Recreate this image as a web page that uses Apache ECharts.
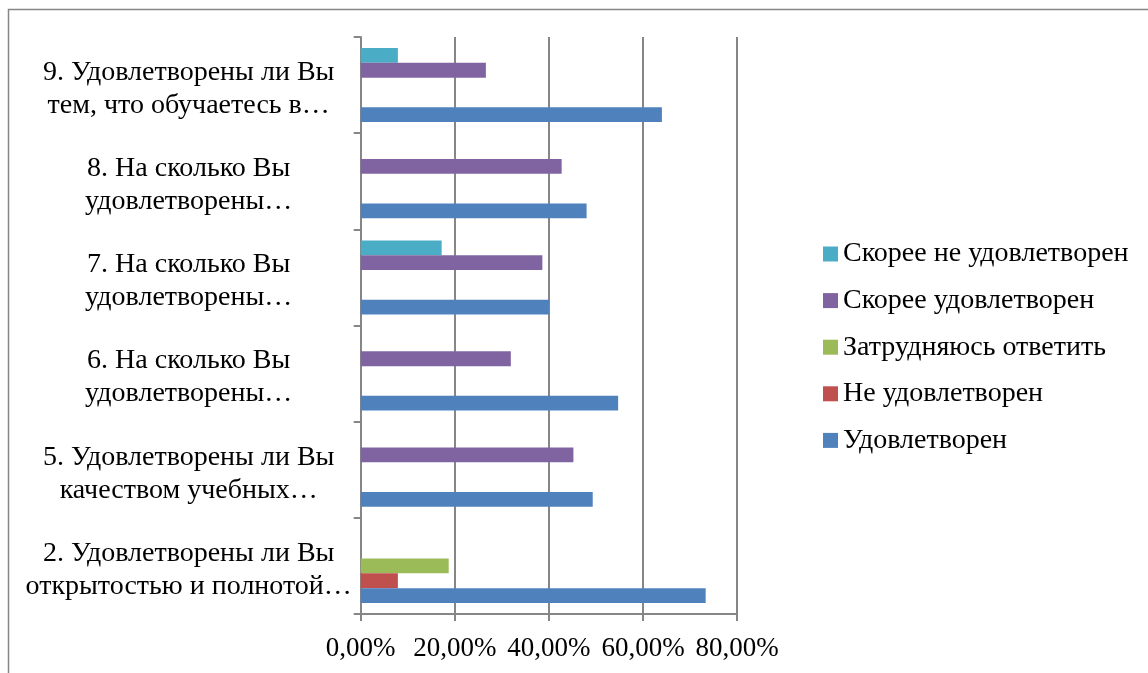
<!DOCTYPE html>
<html>
<head>
<meta charset="utf-8">
<script src="https://cdn.jsdelivr.net/npm/echarts@6/dist/echarts.min.js"></script>
<style>
html,body{margin:0;padding:0;background:#fff;}
#chart{width:1148px;height:673px;}
</style>
</head>
<body>
<div id="chart"></div>
<script>
// Categories, bottom to top
var categories = [
  '2. Удовлетворены ли Вы\nоткрытостью и полнотой…',
  '5. Удовлетворены ли Вы\nкачеством учебных…',
  '6. На сколько Вы\nудовлетворены…',
  '7. На сколько Вы\nудовлетворены…',
  '8. На сколько Вы\nудовлетворены…',
  '9. Удовлетворены ли Вы\nтем, что обучаетесь в…'
];
// Series values (percent)
var satisfied          = [73.3, 49.3, 54.7, 40.0, 48.0, 64.0]; // Удовлетворен
var notSatisfied       = [7.9, 0, 0, 0, 0, 0];                 // Не удовлетворен
var hardToSay          = [18.7, 0, 0, 0, 0, 0];                // Затрудняюсь ответить
var ratherSatisfied    = [0, 45.2, 31.9, 38.6, 42.7, 26.6];    // Скорее удовлетворен
var ratherNotSatisfied = [0, 0, 0, 17.2, 0, 7.9];              // Скорее не удовлетворен
var xTicks = [0, 20, 40, 60, 80];

var FONT = "'Liberation Serif', 'Times New Roman', serif";
var GRAY = '#868686';

var chart = echarts.init(document.getElementById('chart'));
function bar(name, data, color) {
  return {
    name: name, type: 'bar', data: data,
    barGap: '0%', barCategoryGap: '23%',
    itemStyle: { color: color },
    silent: true
  };
}
chart.setOption({
  animation: false,
  backgroundColor: '#fff',
  graphic: [{
    type: 'rect', left: 6, top: 7, silent: true,
    shape: { width: 3000, height: 3000 },
    style: { fill: 'none', stroke: GRAY, lineWidth: 1.5 }
  }],
  grid: { left: 360.7, top: 37, width: 376.5, height: 577, containLabel: false },
  legend: {
    orient: 'vertical', left: 823, top: 240, padding: 0,
    itemWidth: 15, itemHeight: 15, itemGap: 18.6,
    icon: 'rect',
    textStyle: { fontFamily: FONT, fontSize: 28, color: '#000', lineHeight: 26, padding: [0, 0, 0, 0] },
    data: ['Скорее не удовлетворен', 'Скорее удовлетворен', 'Затрудняюсь ответить', 'Не удовлетворен', 'Удовлетворен']
  },
  xAxis: {
    type: 'value', min: xTicks[0], max: xTicks[xTicks.length - 1], interval: 20,
    axisLine: { show: true, lineStyle: { color: GRAY, width: 2 } },
    axisTick: { show: true, length: 7, lineStyle: { color: GRAY, width: 2 } },
    splitLine: { show: true, lineStyle: { color: GRAY, width: 2 } },
    axisLabel: {
      fontFamily: FONT, fontSize: 27, color: '#000', margin: 21,
      formatter: function (v) { return v.toFixed(2).replace('.', ',') + '%'; }
    }
  },
  yAxis: {
    type: 'category', data: categories,
    axisLine: { show: true, lineStyle: { color: GRAY, width: 2 } },
    axisTick: { show: true, length: 7, lineStyle: { color: GRAY, width: 2 } },
    axisLabel: {
      fontFamily: FONT, fontSize: 28, color: '#000', align: 'center',
      margin: 172, lineHeight: 33,
      formatter: function (v) {
        return '{s| }\n' + v.split('\n').map(function (l) { return '{t|' + l + '}'; }).join('\n');
      },
      rich: {
        s: { fontSize: 1, lineHeight: 8 },
        t: { fontFamily: FONT, fontSize: 28, color: '#000', lineHeight: 33, align: 'center' }
      }
    }
  },
  series: [
    bar('Скорее не удовлетворен', ratherNotSatisfied, '#4BACC6'),
    bar('Скорее удовлетворен', ratherSatisfied, '#8064A2'),
    bar('Затрудняюсь ответить', hardToSay, '#9BBB59'),
    bar('Не удовлетворен', notSatisfied, '#C0504D'),
    bar('Удовлетворен', satisfied, '#4F81BD')
  ]
});
</script>
</body>
</html>
